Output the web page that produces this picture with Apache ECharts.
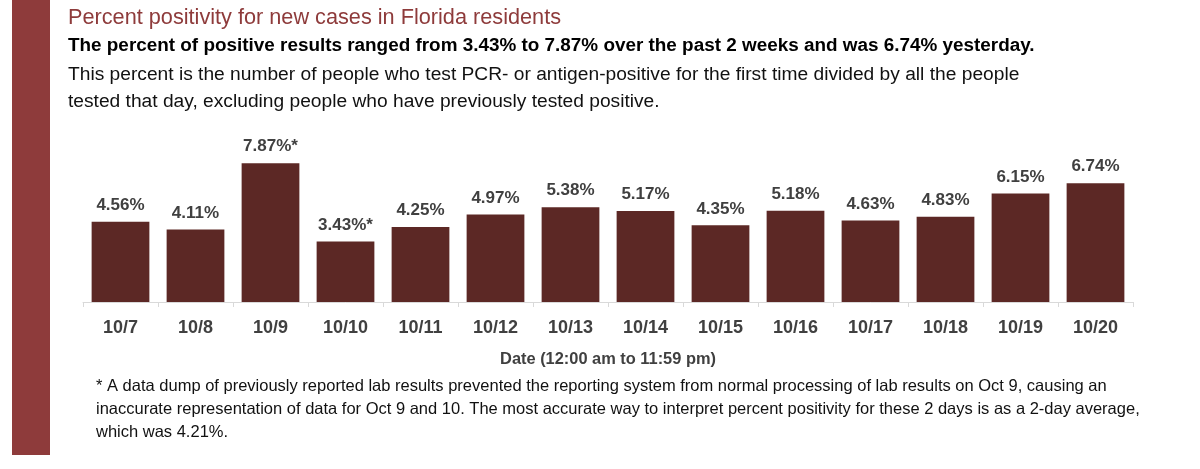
<!DOCTYPE html>
<html><head><meta charset="utf-8">
<script src="https://cdn.jsdelivr.net/npm/echarts@6/dist/echarts.min.js"></script>
<style>html,body{margin:0;padding:0;background:#fff}#c{width:1200px;height:469px}</style>
</head><body><div id="c"></div>
<script>
const categories = ['10/7','10/8','10/9','10/10','10/11','10/12','10/13','10/14','10/15','10/16','10/17','10/18','10/19','10/20'];
const positivity = [4.56,4.11,7.87,3.43,4.25,4.97,5.38,5.17,4.35,5.18,4.63,4.83,6.15,6.74];
const flagged = ['10/9','10/10'];
const titleText = 'Percent positivity for new cases in Florida residents';
const subtitleText = 'The percent of positive results ranged from 3.43% to 7.87% over the past 2 weeks and was 6.74% yesterday.';
const descLines = ['This percent is the number of people who test PCR- or antigen-positive for the first time divided by all the people','tested that day, excluding people who have previously tested positive.'];
const noteLines = ['* A data dump of previously reported lab results prevented the reporting system from normal processing of lab results on Oct 9, causing an','inaccurate representation of data for Oct 9 and 10. The most accurate way to interpret percent positivity for these 2 days is as a 2-day average,','which was 4.21%.'];
const axisTitle = 'Date (12:00 am to 11:59 pm)';

const chart = echarts.init(document.getElementById('c'));
const font = '"Liberation Sans", Arial, sans-serif';
chart.setOption({
  animation:false,
  textStyle:{fontFamily:font},
  graphic:[
    {type:'rect',shape:{x:12,y:0,width:38,height:455},style:{fill:'#8E3B3B'}},
    {type:'text',left:68,top:7,style:{text:titleText,font:'21.7px '+font,fill:'#8E3B3B'}},
    {type:'text',left:68,top:36,style:{text:subtitleText,font:'bold 18.9px '+font,fill:'#000'}},
    {type:'text',left:68,top:61,style:{text:descLines.join('\n'),font:'19.2px '+font,fill:'#111',lineHeight:27}},
    {type:'text',left:96,top:375,style:{text:noteLines.join('\n'),font:'16.5px '+font,fill:'#111',lineHeight:23}}
  ],
  grid:{left:83,right:67,top:161,bottom:167,containLabel:false},
  xAxis:{
    type:'category',data:categories,
    axisLine:{lineStyle:{color:'#d9d9d9',width:1}},
    axisTick:{show:true,length:5,lineStyle:{color:'#d9d9d9'}},
    axisLabel:{color:'#404040',fontSize:18,fontWeight:'bold',margin:17,fontFamily:font},
    name:axisTitle,nameLocation:'middle',nameGap:49,
    nameTextStyle:{color:'#404040',fontSize:16.4,fontWeight:'bold',fontFamily:font}
  },
  yAxis:{type:'value',min:0,max:8,show:false,splitLine:{show:false}},
  series:[{
    type:'bar',data:positivity,barCategoryGap:'23%',
    itemStyle:{color:'#5C2825'},
    label:{show:true,position:'top',distance:8,color:'#404040',fontSize:17,fontWeight:'bold',fontFamily:font,
      formatter:p=>p.value.toFixed(2)+'%'+(flagged.includes(p.name)?'*':'')}
  }]
});
</script></body></html>
